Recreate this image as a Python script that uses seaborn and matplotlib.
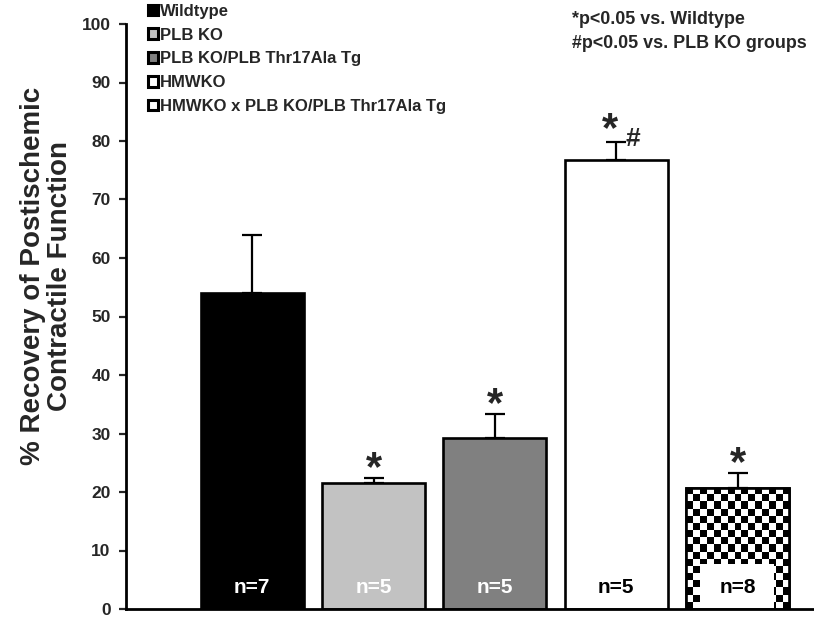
import numpy as np
import pandas as pd
import matplotlib
matplotlib.use("Agg")
import matplotlib.pyplot as plt
import seaborn as sns
from matplotlib.patches import Patch, Rectangle

groups = ["Wildtype", "PLB KO", "PLB KO/PLB Thr17Ala Tg", "HMWKO",
          "HMWKO x PLB KO/PLB Thr17Ala Tg"]
means = [54.0, 21.5, 29.3, 76.8, 20.7]
errs = [9.9, 0.9, 4.0, 3.0, 2.5]
n_labels = ["n=7", "n=5", "n=5", "n=5", "n=8"]
sig_marks = ["", "*", "*", "*", "*"]
hash_marks = ["", "", "", "#", ""]
colors = ["#000000", "#c2c2c2", "#808080", "#ffffff", "#ffffff"]
y_ticks = [0, 10, 20, 30, 40, 50, 60, 70, 80, 90, 100]

sns.set_theme(style="white")
plt.rcParams["font.family"] = ["Liberation Sans", "DejaVu Sans"]
plt.rcParams["font.weight"] = "bold"

W, H = 814, 619
fig = plt.figure(figsize=(W / 100, H / 100), dpi=100)
ax = fig.add_axes([126 / W, 10 / H, (W - 126) / W, 585 / H])

df = pd.DataFrame({"group": groups, "value": means})
sns.barplot(data=df, x="group", y="value", hue="group", palette=colors,
            order=groups, hue_order=groups, errorbar=None, width=0.85,
            edgecolor="black", linewidth=1.9, legend=False, ax=ax, zorder=2)

xs = np.arange(len(groups))
ax.errorbar(xs, means, yerr=[np.zeros(len(errs)), errs], fmt="none",
            ecolor="black", elinewidth=1.6, capsize=7, capthick=1.6, zorder=1)

patches = ax.patches[:len(groups)]
# checkerboard texture on last bar
p = patches[4]
x0, w = p.get_x(), p.get_width()
h = p.get_height()
nx, ny = 15, 17
cb = (np.add.outer(np.arange(ny), np.arange(nx)) % 2).astype(float)
im = ax.imshow(cb, cmap="gray", extent=(x0, x0 + w, 0, h), aspect="auto",
               interpolation="nearest", zorder=2.1, origin="lower")
im.set_clip_path(p)
ax.add_patch(Rectangle((x0, 0), w, h, fill=False, edgecolor="black",
                       linewidth=1.9, zorder=2.3))
ax.add_patch(Rectangle((x0 + 0.135 * w, 0), 0.72 * w, 7.7, facecolor="white",
                       edgecolor="none", zorder=2.2))

for i in range(len(groups)):
    tc = "white" if i < 3 else "black"
    ax.text(xs[i], 3.6, n_labels[i], ha="center", va="center", color=tc,
            fontsize=15, fontweight="bold", zorder=3)
    top = means[i] + errs[i]
    if sig_marks[i]:
        dx = -0.05 if hash_marks[i] else 0
        dy = 2.1 if hash_marks[i] else 1.5
        ax.text(xs[i] + dx, top + dy, sig_marks[i], ha="center", va="center",
                fontsize=30, fontweight="bold", zorder=3)
    if hash_marks[i]:
        ax.text(xs[i] + 0.14, top + 0.6, hash_marks[i], ha="center", va="center",
                fontsize=19, fontweight="bold", zorder=3)

ax.set_ylim(0, 100)
ax.set_xlim(-1.04, 4.63)
ax.set_yticks(y_ticks)
ax.set_yticklabels([str(t) for t in y_ticks], fontsize=12.5, fontweight="bold")
ax.set_xticks([])
ax.set_xlabel("")
ax.tick_params(axis="y", direction="out", length=5, width=1.6, left=True, pad=6)
for s in ["top", "right"]:
    ax.spines[s].set_visible(False)
for s in ["left", "bottom"]:
    ax.spines[s].set_linewidth(2)
    ax.spines[s].set_color("black")
ax.spines["bottom"].set_zorder(5)
ax.set_ylabel("% Recovery of Postischemic\nContractile Function",
              fontsize=20, fontweight="bold", linespacing=1.05)
ax.yaxis.label.set_verticalalignment("center")
ax.yaxis.set_label_coords((47 - 126) / (W - 126), (609 - 276) / 585)

handles = [Patch(facecolor=c, edgecolor="black", linewidth=2.2) for c in colors]
fig.legend(handles, groups, loc="upper left",
           bbox_to_anchor=(136 / W, 1 + 8 / H),
           frameon=False, prop={"weight": "bold", "size": 12},
           handlelength=0.6, handleheight=0.6, handletextpad=0.15,
           labelspacing=0.53, borderpad=0.2)

fig.text(572 / W, 1 - 20 / H, "*p<0.05 vs. Wildtype", fontsize=12.9,
         fontweight="bold", va="center", ha="left")
fig.text(572 / W, 1 - 43 / H, "#p<0.05 vs. PLB KO groups", fontsize=12.9,
         fontweight="bold", va="center", ha="left")

fig.savefig("out.png", dpi=100)
